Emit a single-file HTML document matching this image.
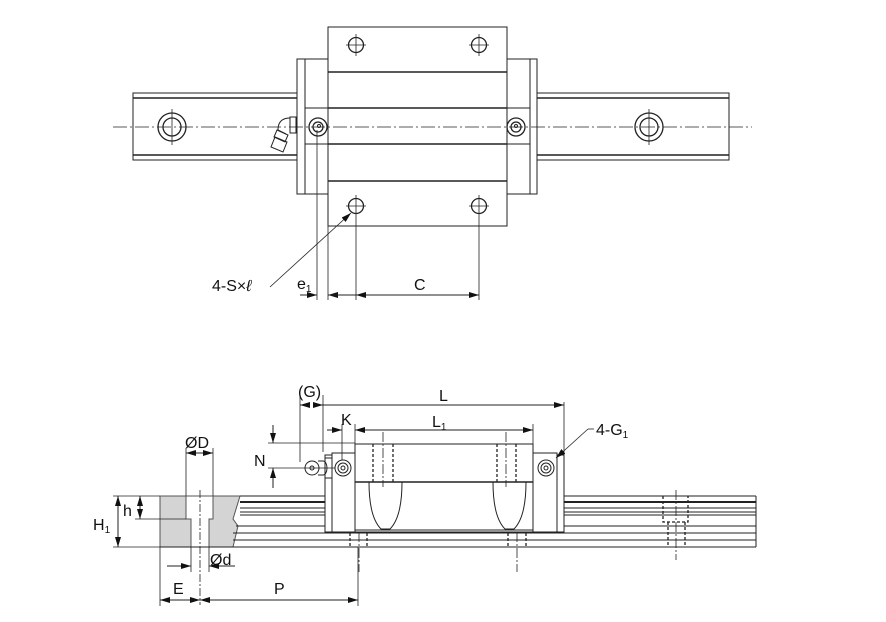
<!DOCTYPE html>
<html><head><meta charset="utf-8"><style>
html,body{margin:0;padding:0;background:#fff;}
svg{display:block;}
text{font-family:"Liberation Sans",Arial,sans-serif;fill:#111;}
</style></head><body>
<svg width="886" height="622" viewBox="0 0 886 622" xmlns="http://www.w3.org/2000/svg">
<defs>
<marker id="a" viewBox="0 0 10 6" refX="10" refY="3" markerWidth="10" markerHeight="6" orient="auto-start-reverse" markerUnits="userSpaceOnUse"><path d="M0,0L10,3L0,6z" fill="#111"/></marker>
</defs>
<g stroke="#222" fill="none" stroke-width="1">
<!-- TOP VIEW -->
<rect x="133" y="93" width="164" height="67"/>
<line x1="133" y1="98" x2="297" y2="98" stroke-width="1.6"/>
<line x1="133" y1="155" x2="297" y2="155" stroke-width="1.6"/>
<rect x="537" y="93" width="192" height="67"/>
<line x1="537" y1="98" x2="729" y2="98" stroke-width="1.6"/>
<line x1="537" y1="155" x2="729" y2="155" stroke-width="1.6"/>
<rect x="297" y="59" width="8" height="135"/>
<rect x="305" y="59" width="23" height="135"/>
<rect x="507" y="59" width="23" height="135"/>
<rect x="530" y="59" width="7" height="135"/>
<line x1="305" y1="108" x2="328" y2="108"/><line x1="305" y1="144" x2="328" y2="144"/>
<line x1="507" y1="108" x2="530" y2="108"/><line x1="507" y1="144" x2="530" y2="144"/>
<rect x="328" y="27" width="179" height="199"/>
<line x1="328" y1="72" x2="507" y2="72" stroke-width="1.5"/>
<line x1="328" y1="108" x2="507" y2="108" stroke-width="1.5"/>
<line x1="328" y1="144" x2="507" y2="144" stroke-width="1.5"/>
<line x1="328" y1="181" x2="507" y2="181" stroke-width="1.5"/>
<g stroke-width="1.3">
<circle cx="356" cy="45" r="7.5"/><circle cx="479" cy="45" r="7.5"/>
<circle cx="356" cy="206" r="7.5"/><circle cx="479" cy="206" r="7.5"/>
<circle cx="172" cy="127" r="14"/><circle cx="172" cy="127" r="9"/>
<circle cx="649" cy="127" r="14"/><circle cx="649" cy="127" r="9"/>
<circle cx="318" cy="127" r="9"/><circle cx="318" cy="127" r="5"/>
<circle cx="516" cy="127" r="9"/><circle cx="516" cy="127" r="5"/>
</g>
<g stroke-width="0.8">
<line x1="346" y1="45" x2="366" y2="45"/><line x1="356" y1="34" x2="356" y2="56"/>
<line x1="469" y1="45" x2="489" y2="45"/><line x1="479" y1="34" x2="479" y2="56"/>
<line x1="346" y1="206" x2="366" y2="206"/><line x1="356" y1="195" x2="356" y2="300"/>
<line x1="469" y1="206" x2="489" y2="206"/><line x1="479" y1="195" x2="479" y2="300"/>
<line x1="172" y1="109" x2="172" y2="145"/><line x1="649" y1="109" x2="649" y2="145"/>
<line x1="317" y1="130" x2="317" y2="300"/><line x1="328" y1="226" x2="328" y2="300"/>
<line x1="113" y1="127" x2="752" y2="127" stroke-dasharray="14,3,2,3"/>
</g>
<circle cx="319" cy="126" r="1.5"/><circle cx="516" cy="126" r="1.5"/>
<path d="M290,117 h6 v16 h-6z"/>
<path d="M290,118 q-12,0 -12,12 l8,4"/>
<path d="M277,130 l11,5 l-3,7 l-11,-5z"/>
<path d="M275,137 l12,5 l-4,10 l-12,-5z"/>
<line x1="300" y1="295" x2="317" y2="295" marker-end="url(#a)"/>
<line x1="345" y1="295" x2="328" y2="295" marker-end="url(#a)"/>
<line x1="328" y1="295" x2="479" y2="295"/>
<line x1="366" y1="295" x2="356" y2="295" marker-end="url(#a)"/>
<line x1="469" y1="295" x2="479" y2="295" marker-end="url(#a)"/>
<line x1="270" y1="287" x2="351" y2="213" stroke-width="0.8" marker-end="url(#a)"/>

<!-- BOTTOM VIEW -->
<path d="M160,496 H240 L233,519 L238,526 L233,547 H160z" fill="#d4d4d4" stroke="#555"/>
<path d="M186,496 V519 H191 V547 H209 V519 H213 V496z" fill="#fff" stroke="#555"/>
<line x1="200" y1="490" x2="200" y2="605" stroke-dasharray="8,2,2,2" stroke-width="0.8"/>
<g stroke-width="1">
<line x1="240" y1="496" x2="756" y2="496"/>
<line x1="240" y1="502" x2="756" y2="502" stroke-width="2"/>
<line x1="240" y1="508" x2="756" y2="508"/>
<line x1="240" y1="512" x2="756" y2="512"/>
<line x1="240" y1="515" x2="756" y2="515"/>
<line x1="236" y1="526" x2="756" y2="526"/>
<line x1="233" y1="533" x2="756" y2="533"/>
<line x1="160" y1="547" x2="756" y2="547"/>
<line x1="233" y1="540" x2="756" y2="540"/>
<line x1="756" y1="496" x2="756" y2="547"/>
</g>
<rect x="325" y="455" width="7" height="77" fill="#fff"/>
<rect x="332" y="453" width="23" height="79" fill="#fff"/>
<rect x="355" y="444" width="178" height="86" fill="#fff"/>
<line x1="355" y1="482" x2="533" y2="482" stroke-width="1.5"/>
<rect x="533" y="453" width="24" height="79" fill="#fff"/>
<rect x="557" y="455" width="7" height="77" fill="#fff"/>
<line x1="325" y1="532" x2="564" y2="532"/>
<g stroke-dasharray="3,2" stroke-width="1.3">
<line x1="373" y1="444" x2="373" y2="482"/><line x1="393" y1="444" x2="393" y2="482"/>
<line x1="497" y1="444" x2="497" y2="482"/><line x1="516" y1="444" x2="516" y2="482"/>
<line x1="350" y1="533" x2="350" y2="548"/><line x1="367" y1="533" x2="367" y2="548"/>
<line x1="508" y1="533" x2="508" y2="548"/><line x1="526" y1="533" x2="526" y2="548"/>
<path d="M663,496 V522 H688 V496 M668,522 V547 M685,522 V547"/>
</g>
<path d="M369,482 q0,35 12,47 h9 q12,-12 12,-47"/>
<path d="M493,482 q0,35 12,47 h9 q12,-12 12,-47"/>
<g stroke-width="0.8" stroke-dasharray="10,2,2,2">
<line x1="383" y1="432" x2="383" y2="487"/><line x1="506" y1="432" x2="506" y2="487"/>
<line x1="359" y1="532" x2="359" y2="572"/><line x1="517" y1="532" x2="517" y2="572"/>
<line x1="676" y1="490" x2="676" y2="560"/>
</g>
<circle cx="343" cy="468" r="8"/><circle cx="343" cy="468" r="5"/><circle cx="343" cy="468" r="2"/>
<circle cx="546" cy="468" r="8"/><circle cx="546" cy="468" r="5"/><circle cx="546" cy="468" r="2"/>
<path d="M332,458 L325,458 V478 H332" />
<path d="M318,461 h5 a4,7 0 0 1 0,14 h-5"/>
<circle cx="312" cy="468" r="7"/><circle cx="312" cy="468" r="2"/>
<g stroke-width="0.8">
<line x1="300" y1="395" x2="300" y2="462"/>
<line x1="323" y1="395" x2="323" y2="452"/>
<line x1="564" y1="402" x2="564" y2="455"/>
<line x1="342" y1="424" x2="342" y2="460"/>
<line x1="355" y1="424" x2="355" y2="444"/>
<line x1="533" y1="424" x2="533" y2="444"/>
<line x1="268" y1="443" x2="355" y2="443"/>
<line x1="268" y1="468" x2="335" y2="468"/>
<line x1="186" y1="448" x2="186" y2="496"/><line x1="213" y1="448" x2="213" y2="496"/>
<line x1="135" y1="519" x2="186" y2="519"/>
<line x1="113" y1="496" x2="160" y2="496"/><line x1="113" y1="547" x2="160" y2="547"/>
<line x1="160" y1="547" x2="160" y2="606"/>
<line x1="358" y1="547" x2="358" y2="606"/>
<line x1="191" y1="547" x2="191" y2="572"/><line x1="209" y1="547" x2="209" y2="572"/>
</g>
<line x1="310" y1="405" x2="300" y2="405" marker-end="url(#a)"/>
<line x1="313" y1="405" x2="323" y2="405" marker-end="url(#a)"/>
<line x1="323" y1="405" x2="564" y2="405" marker-end="url(#a)"/>
<line x1="327" y1="430" x2="342" y2="430" marker-end="url(#a)"/>
<line x1="355" y1="430" x2="533" y2="430" marker-start="url(#a)" marker-end="url(#a)"/>
<line x1="273" y1="425" x2="273" y2="443" marker-end="url(#a)"/>
<line x1="273" y1="488" x2="273" y2="468" marker-end="url(#a)"/>
<line x1="186" y1="453" x2="213" y2="453" marker-start="url(#a)" marker-end="url(#a)"/>
<line x1="140" y1="496" x2="140" y2="519" marker-start="url(#a)" marker-end="url(#a)"/>
<line x1="118" y1="496" x2="118" y2="547" marker-start="url(#a)" marker-end="url(#a)"/>
<line x1="167" y1="566" x2="191" y2="566" marker-end="url(#a)"/>
<line x1="235" y1="566" x2="209" y2="566" marker-end="url(#a)"/>
<line x1="160" y1="600" x2="200" y2="600" marker-start="url(#a)" marker-end="url(#a)"/>
<line x1="200" y1="600" x2="358" y2="600" marker-start="url(#a)" marker-end="url(#a)"/>
<line x1="594" y1="429" x2="588" y2="429" stroke-width="0.8"/>
<line x1="588" y1="429" x2="556" y2="458" stroke-width="0.8" marker-end="url(#a)"/>
</g>
<g font-size="16">
<text x="212" y="291">4-S×<tspan font-style="italic">ℓ</tspan></text>
<text x="297" y="289">e<tspan font-size="10" dy="3">1</tspan></text>
<text x="414" y="290">C</text>
<text x="298" y="397">(G)</text>
<text x="439" y="401">L</text>
<text x="341" y="425">K</text>
<text x="432" y="427">L<tspan font-size="10" dy="3">1</tspan></text>
<text x="596" y="435">4-G<tspan font-size="10" dy="3">1</tspan></text>
<text x="254" y="466">N</text>
<text x="185" y="448">ØD</text>
<text x="123" y="516">h</text>
<text x="93" y="530">H<tspan font-size="10" dy="3">1</tspan></text>
<text x="210" y="565">Ød</text>
<text x="173" y="594">E</text>
<text x="274" y="594">P</text>
</g>
</svg>
</body></html>
